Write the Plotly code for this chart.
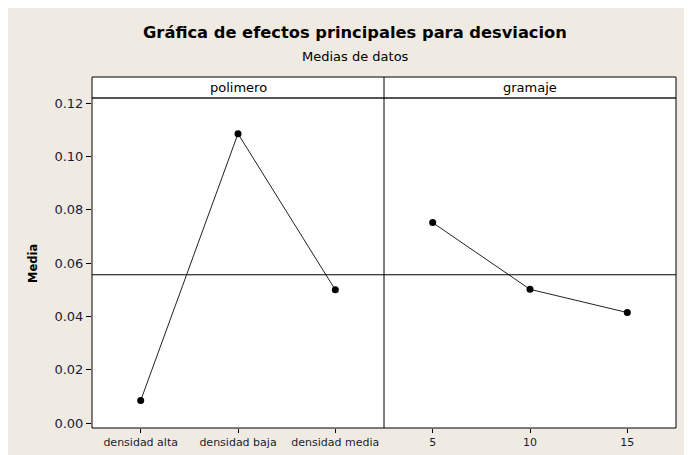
import numpy as np
import plotly.graph_objects as go
from plotly.subplots import make_subplots

# data
polimero_levels = ["densidad alta", "densidad baja", "densidad media"]
polimero_means = [0.0085, 0.1085, 0.0500]
gramaje_levels = ["5", "10", "15"]
gramaje_means = [0.0752, 0.0502, 0.0415]
y_ticks = [0.00, 0.02, 0.04, 0.06, 0.08, 0.10, 0.12]

grand_mean = float(np.mean(polimero_means))

# the page adds an 8px body margin, so the figure is a bit smaller than the window
W, H = 681, 447
L, R, T, B = 84, 13, 90, 27
BEIGE = "#EFEBE2"
FONT = "DejaVu Sans"
TXT = "#1b1b33"

pw = W - L - R
ph = H - T - B


def px(x):
    return (x - L) / pw


def py(y):
    return (H - B - y) / ph


fig = make_subplots(rows=1, cols=2, shared_yaxes=True, horizontal_spacing=0)

for col, (lev, vals) in enumerate([(polimero_levels, polimero_means),
                                    (gramaje_levels, gramaje_means)], start=1):
    fig.add_trace(go.Scatter(
        x=lev, y=vals, mode="lines+markers",
        line=dict(color="#222222", width=1),
        marker=dict(color="black", size=7),
        showlegend=False,
    ), row=1, col=col)

top = py(69)  # top of the strip above the panels

shapes = [
    # white strip above the panels
    dict(type="rect", xref="paper", yref="paper", x0=0, x1=1, y0=1, y1=top,
         fillcolor="white", line_width=0, layer="below"),
    # strip bottom line
    dict(type="line", xref="paper", yref="paper", x0=0, x1=1, y0=1, y1=1,
         line=dict(color="#555555", width=2), layer="above"),
    # divider
    dict(type="line", xref="paper", yref="paper", x0=0.5, x1=0.5, y0=0, y1=top,
         line=dict(color="black", width=1), layer="above"),
    # frame
    dict(type="rect", xref="paper", yref="paper", x0=0, x1=1, y0=0, y1=top,
         line=dict(color="black", width=1), layer="above"),
    # grand mean reference line
    dict(type="line", xref="paper", yref="y", x0=0, x1=1, y0=grand_mean, y1=grand_mean,
         line=dict(color="black", width=1), layer="above"),
]

annotations = [
    dict(text="<b>Gráfica de efectos principales para desviacion</b>",
         x=px(347), y=py(25), font=dict(size=16.3, color="black")),
    dict(text="Medias de datos", x=px(347), y=py(48), font=dict(size=13, color="black")),
    dict(text="polimero", x=0.25, y=py(79.5), font=dict(size=13, color="black")),
    dict(text="gramaje", x=0.75, y=py(79.5), font=dict(size=13, color="black")),
    dict(text="<b>Media</b>", textangle=-90, x=px(25), y=py(256),
         font=dict(size=11.5, color="black")),
]
for a in annotations:
    a.update(xref="paper", yref="paper", showarrow=False, xanchor="center", yanchor="middle")
    a["font"]["family"] = FONT

fig.update_layout(
    width=W, height=H,
    margin=dict(l=L, r=R, t=T, b=B),
    paper_bgcolor=BEIGE,
    plot_bgcolor="white",
    shapes=shapes,
    annotations=annotations,
    font=dict(family=FONT, size=12, color=TXT),
)

fig.update_xaxes(type="category", range=[-0.5, 2.5], showgrid=False, zeroline=False,
                 showline=False, ticks="outside", ticklen=4, tickcolor="black",
                 automargin=False,
                 tickfont=dict(family=FONT, size=11, color=TXT))
fig.update_yaxes(range=[-0.00176, 0.1219], tickvals=y_ticks, tickformat=".2f",
                 showgrid=False, zeroline=False, showline=False, automargin=False,
                 tickfont=dict(family=FONT, size=13, color=TXT))
fig.update_yaxes(ticks="outside", ticklen=5, tickcolor="black", row=1, col=1)
fig.update_yaxes(ticks="", row=1, col=2)

fig.write_html("out.html")
